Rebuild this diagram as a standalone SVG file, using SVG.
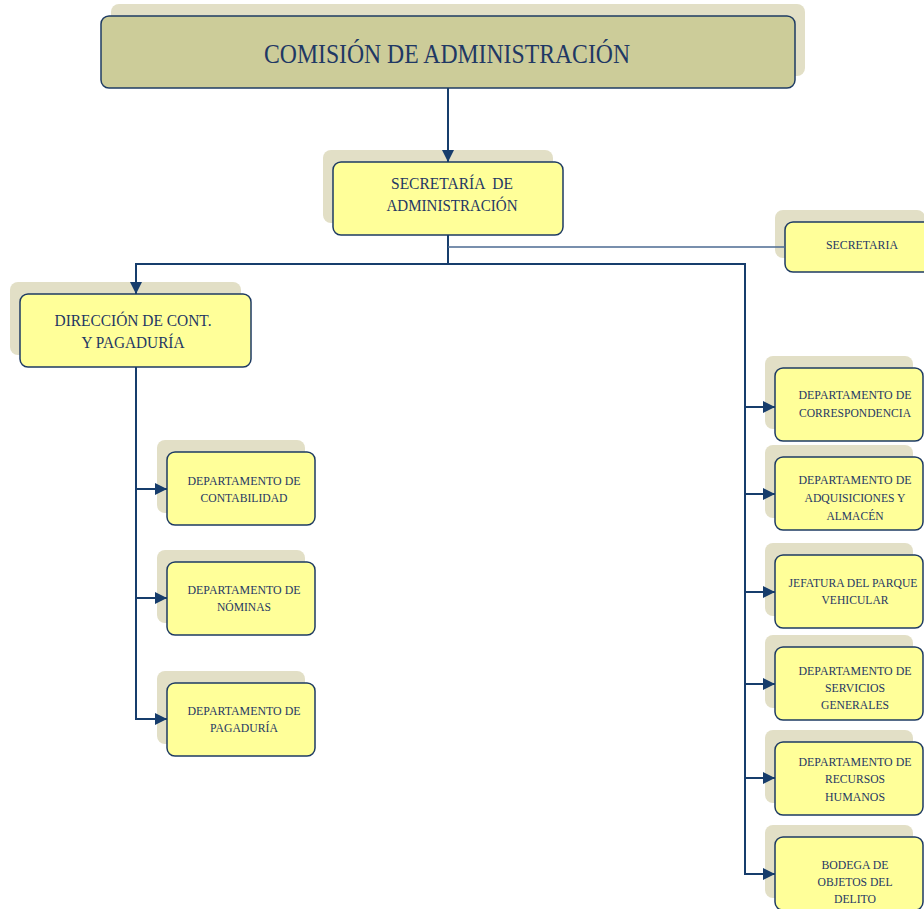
<svg xmlns="http://www.w3.org/2000/svg" width="924" height="909" viewBox="0 0 924 909">
<style>
.shadow{fill:#e2dfc6;stroke:none}
.box{fill:#ffff99;stroke:#1e3b63;stroke-width:1.5}
.top{fill:#cccc99;stroke:#1e3b63;stroke-width:1.5}
text{font-family:"Liberation Serif","Times New Roman",serif;fill:#1f3864;text-anchor:middle}
.s{font-size:13px}
.m{font-size:17.5px}
.l{font-size:27px}
.c{fill:none;stroke:#173d6c;stroke-width:2}
.c2{fill:none;stroke:#4b6a92;stroke-width:1.5}
</style>
<defs>
<marker id="ah" markerUnits="userSpaceOnUse" markerWidth="12" markerHeight="12" viewBox="0 0 12 12" refX="12" refY="6" orient="auto">
<path d="M0,0 L12,6 L0,12 z" fill="#173d6c"/>
</marker>
</defs>
<rect width="924" height="909" fill="#ffffff"/>

<g id="comision">
<rect class="shadow" x="111" y="4" width="694" height="72" rx="8"/>
<rect class="top" x="101" y="16" width="694" height="72" rx="8"/>
<text class="l" x="447" y="63" textLength="366" lengthAdjust="spacingAndGlyphs">COMISIÓN DE ADMINISTRACIÓN</text>
</g>

<g id="secretaria-admin">
<rect class="shadow" x="323" y="150" width="230" height="73" rx="8"/>
<rect class="box" x="333" y="162" width="230" height="73" rx="8"/>
<text class="m" x="452" y="189" textLength="122" lengthAdjust="spacingAndGlyphs" xml:space="preserve">SECRETARÍA  DE</text>
<text class="m" x="452" y="211" textLength="131" lengthAdjust="spacingAndGlyphs">ADMINISTRACIÓN</text>
</g>

<g id="secretaria">
<rect class="shadow" x="775" y="210" width="150" height="48" rx="8"/>
<rect class="box" x="785" y="222" width="150" height="50" rx="8"/>
<text class="s" x="862" y="249" textLength="72" lengthAdjust="spacingAndGlyphs">SECRETARIA</text>
</g>

<g id="direccion">
<rect class="shadow" x="10" y="282" width="231" height="73" rx="8"/>
<rect class="box" x="20" y="294" width="231" height="73" rx="8"/>
<text class="m" x="133" y="326" textLength="157" lengthAdjust="spacingAndGlyphs">DIRECCIÓN DE CONT.</text>
<text class="m" x="133" y="348" textLength="103" lengthAdjust="spacingAndGlyphs">Y PAGADURÍA</text>
</g>

<g id="contabilidad">
<rect class="shadow" x="157" y="440" width="148" height="73" rx="8"/>
<rect class="box" x="167" y="452" width="148" height="73" rx="8"/>
<text class="s" x="244" y="485" textLength="113" lengthAdjust="spacingAndGlyphs">DEPARTAMENTO DE</text>
<text class="s" x="244" y="502" textLength="87" lengthAdjust="spacingAndGlyphs">CONTABILIDAD</text>
</g>

<g id="nominas">
<rect class="shadow" x="157" y="550" width="148" height="73" rx="8"/>
<rect class="box" x="167" y="562" width="148" height="73" rx="8"/>
<text class="s" x="244" y="594" textLength="113" lengthAdjust="spacingAndGlyphs">DEPARTAMENTO DE</text>
<text class="s" x="244" y="611" textLength="54" lengthAdjust="spacingAndGlyphs">NÓMINAS</text>
</g>

<g id="pagaduria">
<rect class="shadow" x="157" y="671" width="148" height="73" rx="8"/>
<rect class="box" x="167" y="683" width="148" height="73" rx="8"/>
<text class="s" x="244" y="715" textLength="113" lengthAdjust="spacingAndGlyphs">DEPARTAMENTO DE</text>
<text class="s" x="244" y="732" textLength="68" lengthAdjust="spacingAndGlyphs">PAGADURÍA</text>
</g>

<g id="correspondencia">
<rect class="shadow" x="765" y="356" width="148" height="73" rx="8"/>
<rect class="box" x="775" y="368" width="148" height="73" rx="8"/>
<text class="s" x="855" y="399" textLength="113" lengthAdjust="spacingAndGlyphs">DEPARTAMENTO DE</text>
<text class="s" x="855" y="417" textLength="112" lengthAdjust="spacingAndGlyphs">CORRESPONDENCIA</text>
</g>

<g id="adquisiciones">
<rect class="shadow" x="765" y="445" width="148" height="73" rx="8"/>
<rect class="box" x="775" y="457" width="148" height="73" rx="8"/>
<text class="s" x="855" y="484" textLength="113" lengthAdjust="spacingAndGlyphs">DEPARTAMENTO DE</text>
<text class="s" x="855" y="502" textLength="101" lengthAdjust="spacingAndGlyphs">ADQUISICIONES Y</text>
<text class="s" x="855" y="520" textLength="57" lengthAdjust="spacingAndGlyphs">ALMACÉN</text>
</g>

<g id="parque-vehicular">
<rect class="shadow" x="765" y="543" width="148" height="73" rx="8"/>
<rect class="box" x="775" y="555" width="148" height="73" rx="8"/>
<text x="853" y="587" font-size="12" textLength="129" lengthAdjust="spacingAndGlyphs">JEFATURA DEL PARQUE</text>
<text class="s" x="855" y="604" textLength="67" lengthAdjust="spacingAndGlyphs">VEHICULAR</text>
</g>

<g id="servicios-generales">
<rect class="shadow" x="765" y="635" width="148" height="73" rx="8"/>
<rect class="box" x="775" y="647" width="148" height="73" rx="8"/>
<text class="s" x="855" y="675" textLength="113" lengthAdjust="spacingAndGlyphs">DEPARTAMENTO DE</text>
<text class="s" x="855" y="692" textLength="60" lengthAdjust="spacingAndGlyphs">SERVICIOS</text>
<text class="s" x="855" y="709" textLength="68" lengthAdjust="spacingAndGlyphs">GENERALES</text>
</g>

<g id="recursos-humanos">
<rect class="shadow" x="765" y="730" width="148" height="73" rx="8"/>
<rect class="box" x="775" y="742" width="148" height="73" rx="8"/>
<text class="s" x="855" y="766" textLength="113" lengthAdjust="spacingAndGlyphs">DEPARTAMENTO DE</text>
<text class="s" x="855" y="783" textLength="60" lengthAdjust="spacingAndGlyphs">RECURSOS</text>
<text class="s" x="855" y="801" textLength="60" lengthAdjust="spacingAndGlyphs">HUMANOS</text>
</g>

<g id="bodega">
<rect class="shadow" x="765" y="825" width="148" height="73" rx="8"/>
<rect class="box" x="775" y="837" width="148" height="73" rx="8"/>
<text class="s" x="855" y="869" textLength="67" lengthAdjust="spacingAndGlyphs">BODEGA DE</text>
<text class="s" x="855" y="886" textLength="75" lengthAdjust="spacingAndGlyphs">OBJETOS DEL</text>
<text class="s" x="855" y="903" textLength="42" lengthAdjust="spacingAndGlyphs">DELITO</text>
</g>

<g id="connectors">
<path class="c" d="M448,88 V162" marker-end="url(#ah)"/>
<path class="c" d="M448,235 V264 H136 V294" marker-end="url(#ah)"/>
<path class="c2" d="M448,247 H785"/>
<path class="c" d="M448,264 H745 V874 H775" marker-end="url(#ah)"/>
<path class="c" d="M745,407 H775" marker-end="url(#ah)"/>
<path class="c" d="M745,494 H775" marker-end="url(#ah)"/>
<path class="c" d="M745,592 H775" marker-end="url(#ah)"/>
<path class="c" d="M745,684 H775" marker-end="url(#ah)"/>
<path class="c" d="M745,778 H775" marker-end="url(#ah)"/>
<path class="c" d="M136,367 V719 H167" marker-end="url(#ah)"/>
<path class="c" d="M136,489 H167" marker-end="url(#ah)"/>
<path class="c" d="M136,598 H167" marker-end="url(#ah)"/>
</g>
</svg>
